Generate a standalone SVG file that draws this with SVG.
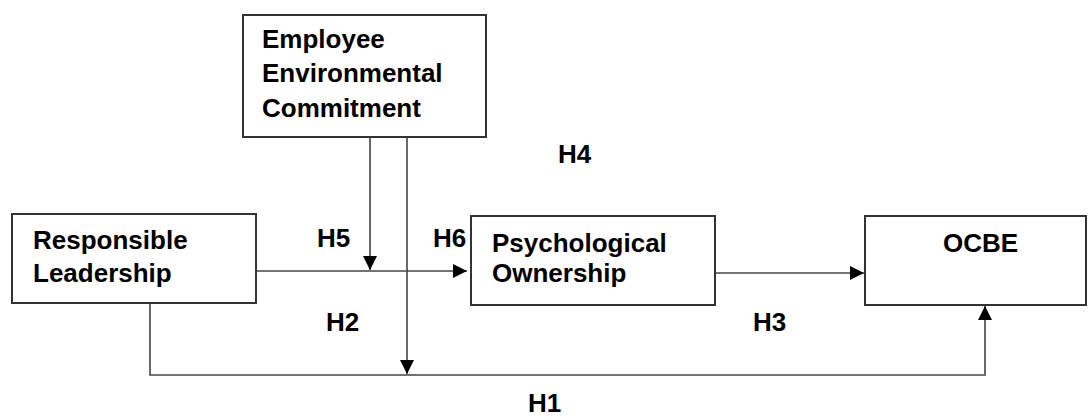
<svg xmlns="http://www.w3.org/2000/svg" width="1088" height="417" viewBox="0 0 1088 417">
<style>
.box{fill:#fff;stroke:#333;stroke-width:2}
.t{font-family:"Liberation Sans",Arial,sans-serif;font-weight:bold;font-size:26px;fill:#000}
.c{fill:none;stroke:#444;stroke-width:1.6}
</style>
<defs>
<marker id="ah" markerUnits="userSpaceOnUse" markerWidth="16" markerHeight="16" refX="14" refY="7" orient="auto">
<path d="M0,0 L14,7 L0,14 Z" fill="#000"/>
</marker>
</defs>
<rect width="1088" height="417" fill="#fff"/>
<g id="connectors">
<path class="c" d="M256,271 H467" marker-end="url(#ah)"/>
<path class="c" d="M715,273 H864" marker-end="url(#ah)"/>
<path class="c" d="M370,137 V270" marker-end="url(#ah)"/>
<path class="c" d="M407,137 V374" marker-end="url(#ah)"/>
<path class="c" d="M150,303 V375 H985 V306" marker-end="url(#ah)"/>
</g>
<g id="eec">
<rect class="box" x="243" y="15" width="243" height="122"/>
<text class="t" x="262" y="48">Employee</text>
<text class="t" x="262" y="82">Environmental</text>
<text class="t" x="262" y="117">Commitment</text>
</g>
<g id="rl">
<rect class="box" x="12" y="214" width="244" height="89"/>
<text class="t" x="33" y="249">Responsible</text>
<text class="t" x="33" y="282">Leadership</text>
</g>
<g id="po">
<rect class="box" x="471" y="216" width="244" height="89"/>
<text class="t" x="492" y="252">Psychological</text>
<text class="t" x="492" y="282">Ownership</text>
</g>
<g id="ocbe">
<rect class="box" x="865" y="216" width="221" height="89"/>
<text class="t" x="943" y="252">OCBE</text>
</g>
<g id="labels">
<text class="t" x="558" y="163">H4</text>
<text class="t" x="317" y="247">H5</text>
<text class="t" x="433" y="247">H6</text>
<text class="t" x="326" y="331">H2</text>
<text class="t" x="753" y="331">H3</text>
<text class="t" x="528" y="412">H1</text>
</g>
</svg>
